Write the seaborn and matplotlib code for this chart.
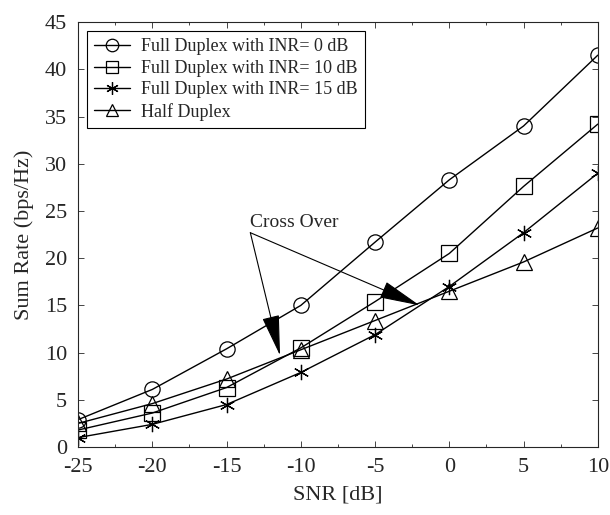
import seaborn as sns
import matplotlib.pyplot as plt
import pandas as pd
from matplotlib.ticker import MultipleLocator

snr = [-25, -20, -15, -10, -5, 0, 5, 10]
fd_inr0 = [2.9, 6.1, 10.4, 15.0, 21.7, 28.3, 34.0, 41.5]
fd_inr10 = [1.8, 3.6, 6.3, 10.5, 15.4, 20.5, 27.6, 34.2]
fd_inr15 = [1.0, 2.4, 4.5, 7.9, 11.9, 17.0, 22.7, 29.0]
half_duplex = [2.5, 4.6, 7.2, 10.3, 13.4, 16.5, 19.6, 23.2]
labels = ["Full Duplex with INR= 0 dB", "Full Duplex with INR= 10 dB",
          "Full Duplex with INR= 15 dB", "Half Duplex"]

sns.set_style("ticks")
plt.rcParams['font.family'] = ['Liberation Serif', 'DejaVu Serif']
plt.rcParams['axes.unicode_minus'] = False

fig = plt.figure(figsize=(6.1, 5.15), dpi=100)
ax = fig.add_axes([0.128, 0.132, 0.852, 0.825])

markers = ['o', 's', (6, 2, 0), '^']
series = [fd_inr0, fd_inr10, fd_inr15, half_duplex]
for vals, lab, m in zip(series, labels, markers):
    df = pd.DataFrame({"snr": snr, "rate": vals})
    sns.lineplot(data=df, x="snr", y="rate", ax=ax, color='k', lw=1,
                 marker=m, markersize=11, mfc='none', mec='k', mew=0.9,
                 label=lab)

# cross over annotation
ax.text(-13.4, 22.9, "Cross Over", fontsize=14, ha='left', va='bottom')
arrow = dict(arrowstyle="-|>,head_length=2.6,head_width=0.55",
             color='k', lw=0.8, shrinkA=0, shrinkB=0)
ax.annotate("", xy=(-11.4, 9.7), xytext=(-13.4, 22.7), arrowprops=arrow)
ax.annotate("", xy=(-2.0, 15.0), xytext=(-13.4, 22.7), arrowprops=arrow)

ax.set_xlim(-25, 10)
ax.set_ylim(0, 45)
ax.xaxis.set_major_locator(MultipleLocator(5))
ax.xaxis.set_minor_locator(MultipleLocator(2.5))
ax.yaxis.set_major_locator(MultipleLocator(5))
ax.tick_params(which='both', direction='in', top=True, right=True,
               labelsize=16, width=0.6)
ax.tick_params(which='major', length=4, pad=8)
ax.tick_params(which='minor', length=2)
for s in ax.spines.values():
    s.set_linewidth(0.8)

ax.set_xlabel("SNR [dB]", fontsize=16, labelpad=6)
ax.set_ylabel("Sum Rate (bps/Hz)", fontsize=16, labelpad=8)

leg = ax.legend(loc='upper left', fontsize=13, fancybox=False,
                edgecolor='k', framealpha=1, handlelength=2.0,
                labelspacing=0.25, borderaxespad=0.5, handletextpad=0.6)
leg.get_frame().set_linewidth(0.8)
for h in leg.legend_handles:
    h.set_markersize(9)

fig.savefig("out.png", dpi=100)
